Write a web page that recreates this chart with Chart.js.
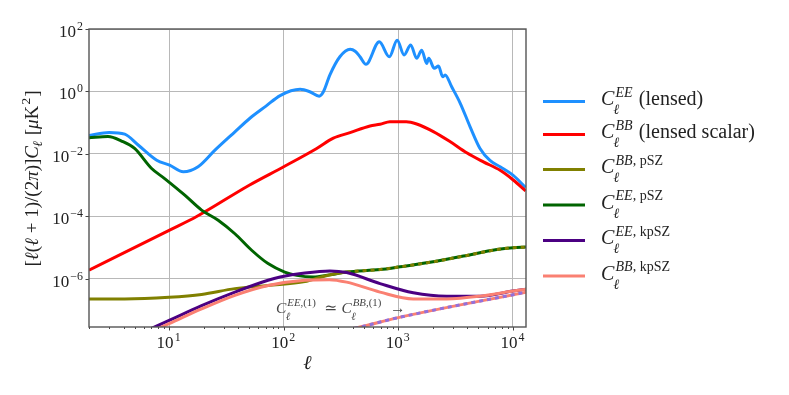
<!DOCTYPE html>
<html>
<head>
<meta charset="utf-8">
<script src="https://cdn.jsdelivr.net/npm/chart.js@4.4.1/dist/chart.umd.min.js"></script>
<style>
  body { margin: 0; background: #fff; }
  canvas { display: block; }
</style>
</head>
<body>
<canvas id="chart" width="789" height="395"></canvas>
<script>
// multipoles and band powers
const ellEE = [2, 3, 4.1, 5.4, 7.8, 10.1, 13.3, 17.9, 25, 37.5, 50.7, 70, 93, 139, 169, 204, 222, 253, 309, 380, 420, 463, 522, 682, 835, 977, 1123, 1282, 1446, 1600, 1770, 1840, 2060, 2240, 2440, 2560, 2920, 3470, 4230, 5160, 6300, 7730, 10000, 12900];
const clEE = [0.039, 0.049, 0.043, 0.019, 0.0063, 0.0044, 0.0027, 0.0039, 0.013, 0.051, 0.139, 0.34, 0.74, 1.17, 0.98, 0.71, 0.98, 3.4, 12.9, 22.4, 19.5, 13, 7.4, 39, 12.9, 44, 14.7, 31, 11.5, 21, 7.9, 11.5, 5.5, 6.5, 2.95, 3.4, 1.41, 0.42, 0.074, 0.015, 0.0062, 0.0039, 0.0021, 0.00085];

const ellBB = [2, 10, 17.4, 50, 100, 194, 271, 379, 566, 692, 845, 1175, 1446, 2020, 2820, 3950, 5520, 7730, 10000, 12900];
const clBB = [1.9e-6, 3.6e-5, 1e-4, 1e-3, 0.0039, 0.015, 0.032, 0.048, 0.079, 0.089, 0.108, 0.108, 0.091, 0.052, 0.025, 0.011, 0.0056, 0.003, 0.0015, 0.00066];

const ellBBpSZ = [2, 4.1, 10, 19.2, 37.5, 73, 153, 220, 354, 692, 1000, 1890, 3700, 7240, 10000, 13100];
const clBBpSZ = [2.3e-7, 2.3e-7, 2.6e-7, 3.2e-7, 4.9e-7, 6.2e-7, 8.2e-7, 1.2e-6, 1.66e-6, 2.0e-6, 2.4e-6, 3.4e-6, 5.4e-6, 8.7e-6, 1.0e-5, 1.05e-5];

const ellEEpSZ = [2, 2.93, 3.84, 5, 7, 9.2, 13.7, 19.2, 26.8, 37.5, 52.5, 73, 102, 130, 181, 250, 354, 692, 1000, 1890, 3700, 7240, 10000, 13100];
const clEEpSZ = [0.033, 0.036, 0.026, 0.015, 0.0035, 0.0016, 0.00048, 0.00016, 7.6e-5, 2.8e-5, 8.3e-6, 3.1e-6, 1.66e-6, 1.3e-6, 1.15e-6, 1.35e-6, 1.66e-6, 2.0e-6, 2.4e-6, 3.4e-6, 5.4e-6, 8.7e-6, 1.0e-5, 1.05e-5];

const ellEEkp = [5, 10, 19.2, 37.5, 73, 93, 153, 253, 354, 692, 1350, 2650, 5160, 10000, 13100];
const clEEkp = [1.5e-8, 4.7e-8, 1.4e-7, 3.8e-7, 9.1e-7, 1.15e-6, 1.55e-6, 1.8e-6, 1.6e-6, 7.1e-7, 3.6e-7, 2.8e-7, 2.8e-7, 4.1e-7, 4.7e-7];

const ellBBkp = [5, 10, 19.2, 37.5, 73, 153, 250, 354, 692, 1350, 2650, 5160, 10000, 13100];
const clBBkp = [1.2e-8, 3.7e-8, 1.1e-7, 3.0e-7, 6.2e-7, 9.1e-7, 9.5e-7, 7.9e-7, 3.8e-7, 2.3e-7, 2.3e-7, 2.8e-7, 4.1e-7, 4.7e-7];

const ellFirst = [300, 446, 1000, 13100];
const clFirst = [2.1e-8, 2.8e-8, 5.8e-8, 3.8e-7];

const xTicks = [10, 100, 1000, 10000];
const yTicks = [1e-6, 1e-4, 1e-2, 1, 100];
const xMin = 2, xMax = 13000, yMin = 2.9e-8, yMax = 100;

const serif = '"Liberation Serif", "DejaVu Serif", serif';
const font = (size, it) => (it ? 'italic ' : '') + size + 'px ' + serif;

// text made of runs: {t, i} or {sub: [...], sup: [...]} for scripts
function layoutRuns(ctx, runs, size) {
    const ops = [];
    let x = 0;
    for (const r of runs) {
        if (r.t !== undefined) {
            ctx.font = font(size, r.i);
            ops.push({ t: r.t, f: font(size, r.i), dx: x, dy: 0 });
            x += ctx.measureText(r.t).width;
        } else {
            const s = size * 0.7;
            let wSub = 0, wSup = 0;
            if (r.sub) {
                let xx = x - size * 0.04;
                const dy = r.sup ? size * 0.45 : size * 0.22;
                for (const q of r.sub) {
                    ctx.font = font(s, q.i);
                    ops.push({ t: q.t, f: font(s, q.i), dx: xx, dy: dy });
                    xx += ctx.measureText(q.t).width;
                }
                wSub = xx - x;
            }
            if (r.sup) {
                let xx = x + size * 0.06;
                for (const q of r.sup) {
                    ctx.font = font(s, q.i);
                    ops.push({ t: q.t, f: font(s, q.i), dx: xx, dy: -size * 0.42 });
                    xx += ctx.measureText(q.t).width;
                }
                wSup = xx - x;
            }
            x += Math.max(wSub, wSup) + size * 0.06;
        }
    }
    return { ops, w: x };
}

function drawRuns(ctx, runs, size, x, y, align, color) {
    const L = layoutRuns(ctx, runs, size);
    const x0 = align === 'right' ? x - L.w : align === 'center' ? x - L.w / 2 : x;
    ctx.fillStyle = color;
    ctx.textAlign = 'left';
    ctx.textBaseline = 'alphabetic';
    for (const o of L.ops) {
        ctx.font = o.f;
        ctx.fillText(o.t, x0 + o.dx, y + o.dy);
    }
    return L.w;
}

const ell = { t: '\u2113', i: true };
const Cl = (sup) => [{ t: 'C', i: true }, { sub: [ell], sup: sup }];

const legendItems = [
    { color: '#1E90FF', runs: [...Cl([{ t: 'EE', i: true }]), { t: ' (lensed)' }] },
    { color: '#FF0000', runs: [...Cl([{ t: 'BB', i: true }]), { t: ' (lensed scalar)' }] },
    { color: '#808000', runs: Cl([{ t: 'BB', i: true }, { t: ', pSZ' }]) },
    { color: '#006400', runs: Cl([{ t: 'EE', i: true }, { t: ', pSZ' }]) },
    { color: '#4B0082', runs: Cl([{ t: 'EE', i: true }, { t: ', kpSZ' }]) },
    { color: '#FA8072', runs: Cl([{ t: 'BB', i: true }, { t: ', kpSZ' }]) }
];
const legendY = [101.5, 134.5, 169.5, 205, 240.5, 276];

const tickExp = (v) => {
    const e = Math.round(Math.log10(v));
    return [{ t: '10' }, { sup: [{ t: String(e).replace('-', '\u2212') }] }];
};

const decor = {
    id: 'decor',
    afterDraw(chart) {
        const ctx = chart.ctx;
        const a = chart.chartArea;
        const xs = chart.scales.x, ys = chart.scales.y;
        ctx.save();

        // tick marks
        ctx.strokeStyle = '#444';
        ctx.lineWidth = 1;
        ctx.beginPath();
        for (const v of yTicks) {
            const py = Math.round(ys.getPixelForValue(v)) + 0.5;
            ctx.moveTo(a.left - 3.5, py); ctx.lineTo(a.left, py);
        }
        for (const v of xTicks) {
            const px = Math.round(xs.getPixelForValue(v)) + 0.5;
            ctx.moveTo(px, a.bottom); ctx.lineTo(px, a.bottom + 3.5);
        }
        for (let d = 1; d <= 10000; d *= 10) {
            for (let m = 2; m <= 9; m++) {
                const v = m * d;
                if (v < xMin || v > xMax) continue;
                const px = Math.round(xs.getPixelForValue(v)) + 0.5;
                ctx.moveTo(px, a.bottom); ctx.lineTo(px, a.bottom + 2);
            }
        }
        ctx.stroke();

        // frame
        ctx.strokeStyle = '#555';
        ctx.lineWidth = 1.4;
        ctx.strokeRect(a.left, a.top, a.right - a.left, a.bottom - a.top);

        // tick labels
        for (const v of yTicks) {
            const py = ys.getPixelForValue(v);
            drawRuns(ctx, tickExp(v), 17, a.left - 5, py + 8, 'right', '#222');
        }
        for (const v of xTicks) {
            const px = xs.getPixelForValue(v);
            drawRuns(ctx, tickExp(v), 17, px, a.bottom + 21, 'center', '#222');
        }

        // axis titles
        drawRuns(ctx, [ell], 20, (a.left + a.right) / 2, 369, 'center', '#222');
        ctx.save();
        ctx.translate(38, 178.5);
        ctx.rotate(-Math.PI / 2);
        drawRuns(ctx, [
            { t: '[' }, ell, { t: '(' }, ell, { t: ' + 1)/(2' }, { t: '\u03c0', i: true }, { t: ')]' },
            { t: 'C', i: true }, { sub: [ell] }, { t: ' [' }, { t: '\u03bc', i: true }, { t: 'K' },
            { sup: [{ t: '2' }] }, { t: ']' }
        ], 19, 0, 0, 'center', '#222');
        ctx.restore();

        // annotation for the first-order terms
        drawRuns(ctx, [
            ...Cl([{ t: 'EE', i: true }, { t: ',(1)' }]), { t: '  \u2243 ' },
            ...Cl([{ t: 'BB', i: true }, { t: ',(1)' }]), { t: '  \u2192' }
        ], 15.5, 276, 313, 'left', '#444');

        // legend
        legendItems.forEach((it, i) => {
            const y = legendY[i];
            ctx.strokeStyle = it.color;
            ctx.lineWidth = 3;
            ctx.beginPath();
            ctx.moveTo(543, y); ctx.lineTo(585, y);
            ctx.stroke();
            drawRuns(ctx, it.runs, 20, 601, y + 3.5, 'left', '#222');
        });

        ctx.restore();
    }
};

const pts = (xs, ys) => xs.map((x, i) => ({ x: x, y: ys[i] }));
const line = (xs, ys, color, order, extra) => Object.assign({
    data: pts(xs, ys),
    borderColor: color,
    borderWidth: 3,
    pointRadius: 0,
    fill: false,
    cubicInterpolationMode: 'monotone',
    order: order
}, extra || {});

new Chart(document.getElementById('chart').getContext('2d'), {
    type: 'line',
    data: {
        datasets: [
            line(ellEE, clEE, '#1E90FF', 8),
            line(ellBB, clBB, '#FF0000', 7),
            line(ellEEpSZ, clEEpSZ, '#006400', 6),
            line(ellBBpSZ, clBBpSZ, '#808000', 5, {
                segment: { borderDash: c => c.p0.parsed.x >= 354 ? [4, 4] : undefined }
            }),
            line(ellEEkp, clEEkp, '#4B0082', 4),
            line(ellBBkp, clBBkp, '#FA8072', 3),
            line(ellFirst, clFirst, '#FA8072', 2),
            line(ellFirst, clFirst, '#9370DB', 1, { borderDash: [4, 4] })
        ]
    },
    options: {
        responsive: false,
        animation: false,
        devicePixelRatio: 1,
        layout: { padding: { left: 89, right: 263, top: 29, bottom: 68 } },
        plugins: { legend: { display: false }, tooltip: { enabled: false } },
        scales: {
            x: {
                type: 'logarithmic',
                min: xMin,
                max: xMax,
                afterBuildTicks: s => { s.ticks = xTicks.map(v => ({ value: v })); },
                ticks: { display: false },
                grid: { color: '#b8b8b8', lineWidth: 1, drawTicks: false },
                border: { display: false }
            },
            y: {
                type: 'logarithmic',
                min: yMin,
                max: yMax,
                afterBuildTicks: s => { s.ticks = yTicks.map(v => ({ value: v })); },
                ticks: { display: false },
                grid: { color: '#b8b8b8', lineWidth: 1, drawTicks: false },
                border: { display: false }
            }
        }
    },
    plugins: [decor]
});
</script>
</body>
</html>
